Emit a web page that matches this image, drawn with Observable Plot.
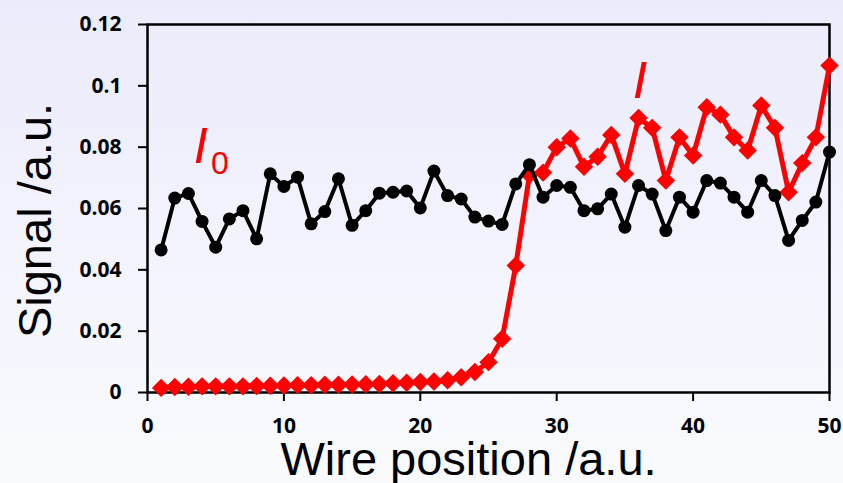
<!DOCTYPE html>
<html>
<head>
<meta charset="utf-8">
<script src="https://cdn.jsdelivr.net/npm/d3@7"></script>
<script src="https://cdn.jsdelivr.net/npm/@observablehq/plot@0.6"></script>
<style>
  html, body { margin: 0; padding: 0; }
  body {
    width: 843px; height: 483px; overflow: hidden;
    background: linear-gradient(to bottom, #ebebfb 0%, #f3f4fd 55%, #fafbfe 100%);
  }
  svg { display: block; }
</style>
</head>
<body>
<div id="chart"></div>
<script>
// Wire scan: reference signal I0 and transmitted signal I
const position = d3.range(1, 51);

const i0Signal = [
  0.0465, 0.0634, 0.0649, 0.0558, 0.0474, 0.0566, 0.0593, 0.0501, 0.0713, 0.0672,
  0.0702, 0.0550, 0.0590, 0.0697, 0.0545, 0.0593, 0.0650, 0.0653, 0.0657, 0.0602,
  0.0722, 0.0642, 0.0631, 0.0572, 0.0559, 0.0548, 0.0680, 0.0743, 0.0637, 0.0675,
  0.0669, 0.0593, 0.0599, 0.0647, 0.0539, 0.0675, 0.0647, 0.0528, 0.0637, 0.0588,
  0.0691, 0.0683, 0.0637, 0.0588, 0.0691, 0.0642, 0.0496, 0.0561, 0.0621, 0.0784
];

const iSignal = [
  0.0015, 0.0018, 0.0019, 0.0020, 0.0020, 0.0020, 0.0020, 0.0021, 0.0022, 0.0023,
  0.0024, 0.0024, 0.0025, 0.0025, 0.0026, 0.0027, 0.0028, 0.0030, 0.0032, 0.0034,
  0.0036, 0.0040, 0.0050, 0.0067, 0.0099, 0.0175, 0.0414, 0.0710, 0.0717, 0.0800,
  0.0828, 0.0736, 0.0769, 0.0840, 0.0713, 0.0895, 0.0863, 0.0691, 0.0832, 0.0773,
  0.0930, 0.0906, 0.0832, 0.0789, 0.0936, 0.0863, 0.0653, 0.0748, 0.0832, 0.1066
];

const xTicks = [0, 10, 20, 30, 40, 50];
const yTicks = [0, 0.02, 0.04, 0.06, 0.08, 0.1, 0.12];
const yTickLabels = ["0", "0.02", "0.04", "0.06", "0.08", "0.1", "0.12"];

const xTitle = "Wire position /a.u.";
const yTitle = "Signal /a.u.";

const i0Rows = position.map((p, k) => ({position: p, signal: i0Signal[k]}));
const iRows = position.map((p, k) => ({position: p, signal: iSignal[k]}));

const tickFont = {fontSize: 21, fontWeight: "bold", fontFamily: "Open Sans"};
const titleFont = {fontSize: 47, fontFamily: "Liberation Sans", fill: "black"};
const markFont = {fontFamily: "Liberation Sans", fontStyle: "italic", fill: "#ff0000"};

const chart = Plot.plot({
  width: 843,
  height: 483,
  marginLeft: 147,
  marginRight: 14,
  marginTop: 24,
  marginBottom: 91,
  style: {background: "transparent", color: "black", overflow: "visible"},
  x: {domain: [0, 50]},
  y: {domain: [0, 0.12]},
  marks: [
    Plot.frame({stroke: "black", strokeWidth: 2.5}),
    Plot.axisY(yTicks, {
      tickSize: 9, tickPadding: 17, strokeWidth: 2, label: null,
      tickFormat: d => yTickLabels[yTicks.indexOf(d)], ...tickFont
    }),
    Plot.axisX(xTicks, {
      tickSize: 9, tickPadding: 17, strokeWidth: 2, label: null, ...tickFont
    }),
    // transmitted signal I
    Plot.line(iRows, {x: "position", y: "signal", stroke: "#ff0000", strokeWidth: 5}),
    Plot.dot(iRows, {x: "position", y: "signal", symbol: "diamond2", r: 8.3, fill: "#ff0000", stroke: "none"}),
    // reference signal I0
    Plot.line(i0Rows, {x: "position", y: "signal", stroke: "black", strokeWidth: 4}),
    Plot.dot(i0Rows, {x: "position", y: "signal", r: 6.5, fill: "black", stroke: "none"}),
    // series labels
    Plot.text(["I"], {x: 3.9, y: 0.0747, text: d => d, fontSize: 50, lineAnchor: "bottom", ...markFont}),
    Plot.text(["0"], {x: 5.3, y: 0.0714, text: d => d, fontSize: 32, lineAnchor: "bottom", fontFamily: "Liberation Sans", fill: "#ff0000"}),
    Plot.text(["I"], {x: 36.1, y: 0.0959, text: d => d, fontSize: 52, lineAnchor: "bottom", ...markFont}),
    // axis titles
    Plot.text([xTitle], {frameAnchor: "bottom", text: d => d, textAnchor: "middle", dx: -20, dy: 82, lineAnchor: "bottom", ...titleFont}),
    Plot.text([yTitle], {frameAnchor: "left", text: d => d, textAnchor: "middle", rotate: -90, dx: -97, dy: 12, lineAnchor: "bottom", ...titleFont})
  ]
});

document.getElementById("chart").append(chart);
</script>
</body>
</html>
